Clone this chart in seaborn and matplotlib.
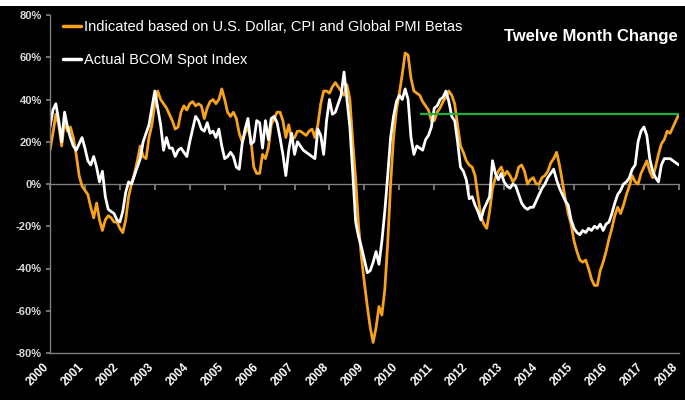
"""Twelve month change: indicated vs actual BCOM spot index."""

import numpy as np
import pandas as pd
import matplotlib.pyplot as plt
import matplotlib.transforms as mtransforms
import seaborn as sns

# =========================
# DATA (monthly, Jan 2000 -> Jan 2018, % change y/y)
# =========================
start_year = 2000
year_ticks = list(range(2000, 2019))

indicated = [
    16, 24, 33, 28, 18, 30, 25, 27, 22, 14, 4, -1,
    -3, -5, -11, -16, -9, -17, -22, -17, -15, -16, -18, -18,
    -21, -23, -17, -6, 0, 5, 11, 18, 13, 12, 22, 28,
    38, 44, 40, 38, 36, 33, 30, 26, 27, 34, 37, 35,
    38, 39, 37, 38, 37, 31, 36, 39, 40, 38, 40, 45,
    40, 34, 32, 34, 31, 24, 20, 24, 27, 21, 8, 5,
    5, 14, 12, 17, 28, 31, 34, 34, 30, 22, 28, 21,
    22, 25, 25, 24, 23, 25, 26, 22, 28, 38, 44, 44,
    43, 46, 48, 46, 44, 42, 47, 40, 20, 2, -20, -35,
    -47, -58, -68, -75, -68, -58, -62, -50, -28, 0, 22, 35,
    43, 52, 62, 61, 50, 44, 43, 42, 39, 37, 35, 30,
    30, 34, 36, 39, 41, 44, 42, 38, 28, 18, 15, 11,
    9, 8, 4, -6, -15, -19, -21, -13, -2, 3, 6, 8,
    4, 6, 4, 1, 3, 8, 9, 6, 0, 2, 3, 0,
    0, 3, 4, 6, 10, 12, 15, 9, 1, -7, -14, -19,
    -27, -32, -36, -37, -36, -40, -45, -48, -48, -41, -37, -32,
    -26, -21, -15, -11, -14, -10, -5, -1, 4, 1, 0, 5,
    8, 11, 6, 3, 8, 14, 19, 21, 25, 24, 27, 30,
    33,
]

actual = [
    27, 35, 38, 30, 20, 34, 27, 22, 18, 16, 19, 22,
    17, 11, 9, 13, 8, 1, 6, -6, -12, -13, -14, -17,
    -18, -13, -4, 1, 0, 4, 8, 12, 20, 24, 28, 36,
    44, 36, 28, 16, 22, 17, 17, 13, 16, 17, 15, 13,
    20, 26, 32, 30, 26, 25, 29, 24, 25, 22, 26, 18,
    12, 13, 15, 13, 8, 7, 19, 26, 31, 19, 20, 30,
    29, 17, 30, 21, 31, 32, 29, 22, 14, 4, 16, 24,
    14, 20, 18, 16, 15, 14, 13, 12, 26, 23, 14, 30,
    40, 33, 34, 38, 42, 53, 40, 27, 5, -18, -25, -30,
    -36, -42, -41, -37, -32, -38, -27, -13, 4, 22, 32, 39,
    42, 40, 45, 40, 22, 14, 18, 17, 16, 21, 23, 27,
    36, 37, 40, 41, 44, 39, 32, 30, 20, 8, 6, 2,
    -7, -6, -10, -13, -17, -12, -9, -6, 11, 5, 2, 5,
    1, -1, -2, 0, -1, -5, -9, -11, -12, -11, -11, -8,
    -5, -2, 0, 3, 5, 7, 2, -2, -5, -8, -10, -17,
    -21, -23, -24, -22, -23, -21, -22, -20, -21, -19, -22, -19,
    -18, -14, -9, -5, -3, 0, 1, 3, 7, 9, 20, 25,
    27, 23, 12, 6, 3, 1, 9, 12, 12, 12, 11, 10,
    9,
]

label_indicated = "Indicated based on U.S. Dollar, CPI and Global PMI Betas"
label_actual = "Actual BCOM Spot Index"

threshold_level = 33
threshold_start = 2010.6

ORANGE = "#F7A21B"
WHITE = "#FFFFFF"
GREEN = "#22B03A"
GREY = "#7F7F7F"


def build_frame():
    years = start_year + np.arange(len(indicated)) / 12
    df = pd.DataFrame({"year": years, label_indicated: indicated, label_actual: actual})
    return df.melt(id_vars="year", var_name="series", value_name="change")


def main():
    data = build_frame()

    sns.set_theme(style="ticks")
    plt.rcParams["font.family"] = ["Liberation Sans", "DejaVu Sans"]

    fig = plt.figure(figsize=(6.85, 4.0), dpi=100, facecolor="black")
    # bande blanche du titre coupé en haut
    fig.add_artist(plt.Rectangle((0, 0.985), 1, 0.015, transform=fig.transFigure,
                                 facecolor="white", edgecolor="none"))

    ax = fig.add_axes([0.073, 0.1175, 0.918, 0.845])
    ax.set_facecolor("black")

    sns.lineplot(data=data, x="year", y="change", hue="series",
                 hue_order=[label_indicated, label_actual],
                 palette={label_indicated: ORANGE, label_actual: WHITE},
                 linewidth=2.0, ax=ax)

    ax.hlines(threshold_level, threshold_start, year_ticks[-1], color=GREEN, linewidth=1.6)

    ax.set_xlim(year_ticks[0], year_ticks[-1])
    ax.set_ylim(-80, 80)
    ax.set_xlabel("")
    ax.set_ylabel("")

    yticks = list(range(-80, 81, 20))
    ax.set_yticks(yticks)
    ax.set_yticklabels([f"{v}%" for v in yticks], fontsize=8, fontweight="bold", color="#D9D9D9")
    ax.set_xticks(year_ticks)
    ax.set_xticklabels([str(y) for y in year_ticks], rotation=45, ha="right",
                       rotation_mode="anchor", fontsize=8.5, fontweight="bold", color="white")
    ax.tick_params(axis="x", length=0, pad=6)
    ax.tick_params(axis="y", length=3, color=GREY, pad=3)

    # décaler un peu les années vers la gauche
    shift = mtransforms.ScaledTranslation(-5 / 72, 0, fig.dpi_scale_trans)
    for lbl in ax.get_xticklabels():
        lbl.set_transform(lbl.get_transform() + shift)

    for side in ["top", "right"]:
        ax.spines[side].set_visible(False)
    for side in ["left", "bottom"]:
        ax.spines[side].set_color(GREY)
        ax.spines[side].set_linewidth(1.0)

    # axe du zéro avec graduations
    zero_axis = ax.secondary_xaxis(0.5)
    zero_axis.set_xticks(year_ticks)
    zero_axis.xaxis.set_ticks_position("bottom")
    zero_axis.tick_params(axis="x", length=4, direction="out", color=GREY,
                          labelbottom=False, labeltop=False)
    for side in ["top", "bottom"]:
        zero_axis.spines[side].set_color(GREY)
        zero_axis.spines[side].set_linewidth(1.0)

    leg = ax.legend(loc="upper left", bbox_to_anchor=(0.0, 1.025), frameon=False,
                    fontsize=10.5, labelcolor="white", handlelength=1.2,
                    handletextpad=0.2, labelspacing=1.35)
    for line in leg.get_lines():
        line.set_linewidth(2.5)

    fig.text(0.99, 0.91, "Twelve Month Change", ha="right", va="center",
             fontsize=12, fontweight="bold", color="white")

    fig.savefig("out.png", dpi=100, facecolor=fig.get_facecolor())


if __name__ == "__main__":
    main()
